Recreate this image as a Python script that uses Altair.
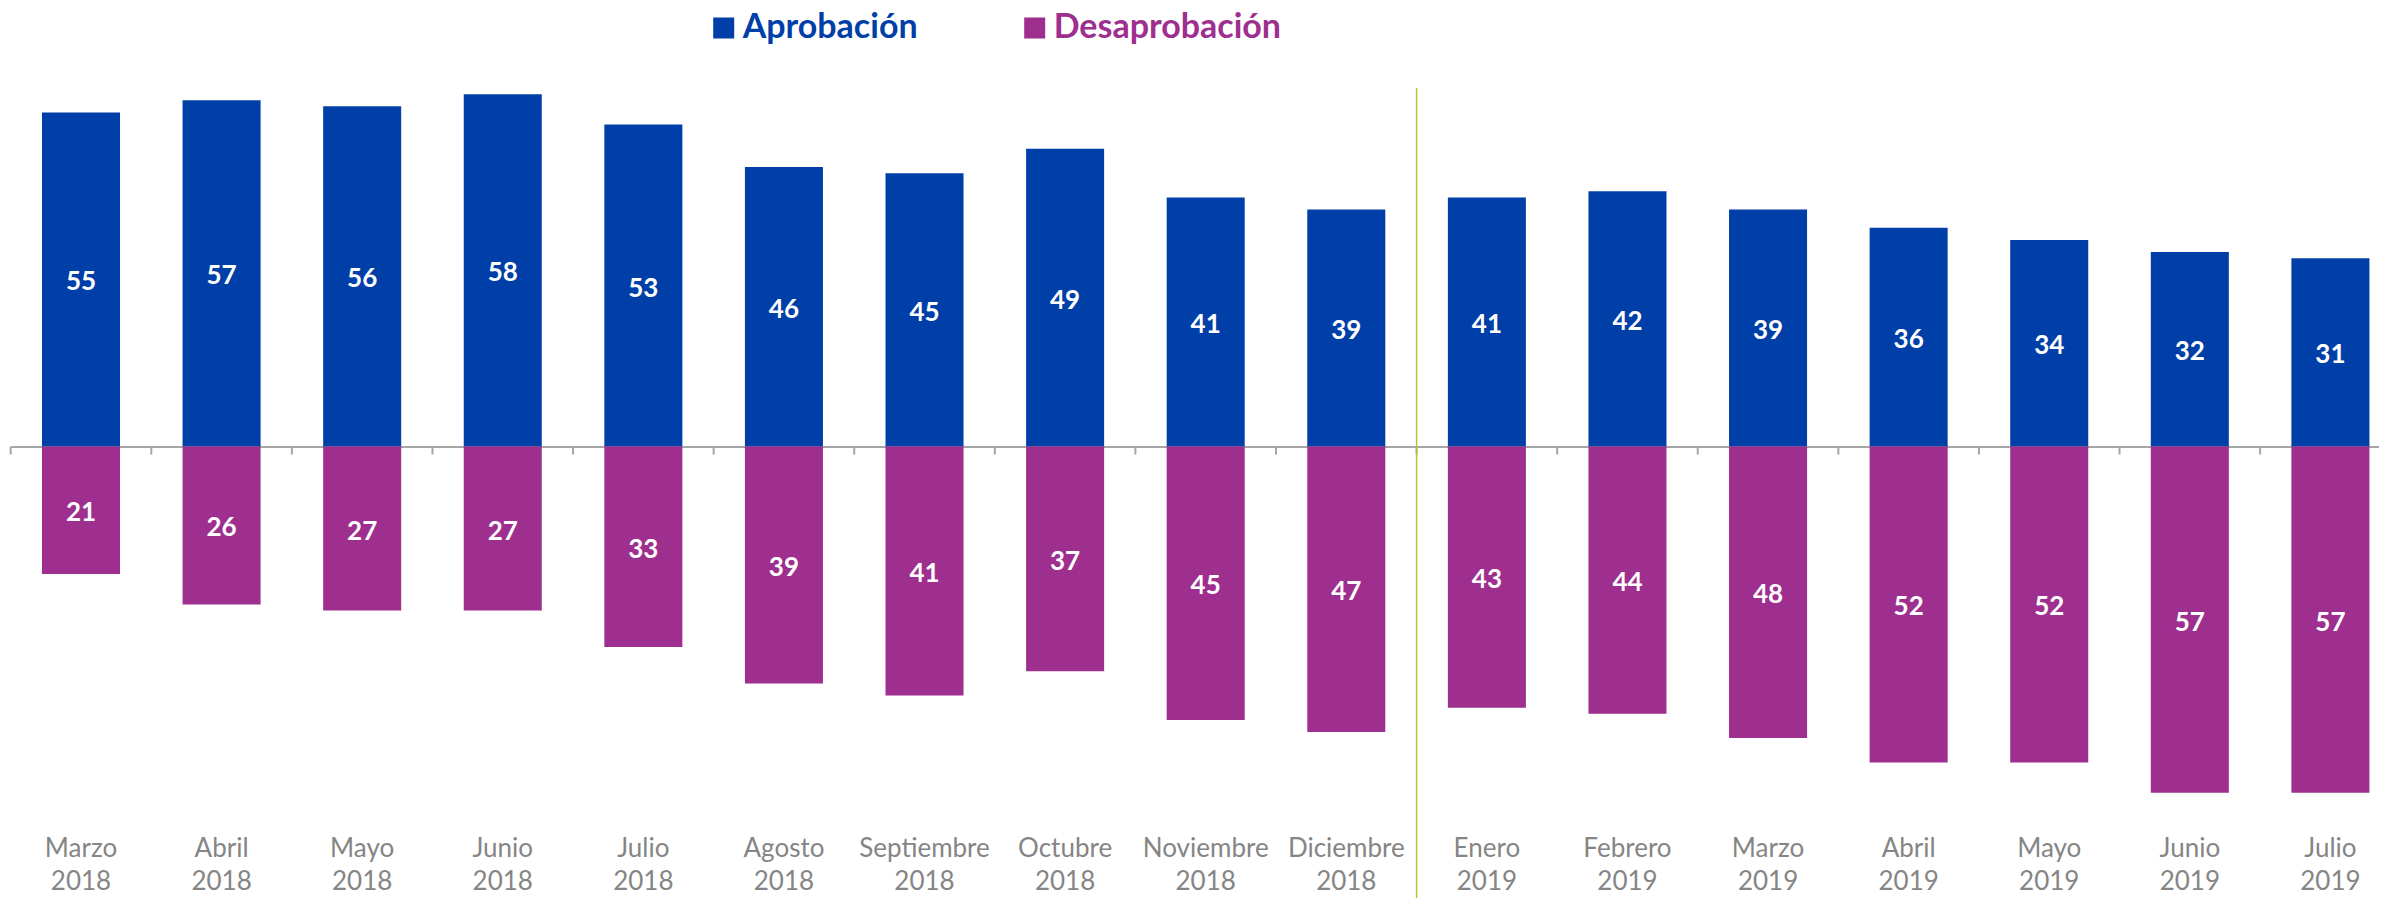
import altair as alt
import pandas as pd

months = ["Marzo 2018", "Abril 2018", "Mayo 2018", "Junio 2018", "Julio 2018",
          "Agosto 2018", "Septiembre 2018", "Octubre 2018", "Noviembre 2018",
          "Diciembre 2018", "Enero 2019", "Febrero 2019", "Marzo 2019",
          "Abril 2019", "Mayo 2019", "Junio 2019", "Julio 2019"]
approval = [55, 57, 56, 58, 53, 46, 45, 49, 41, 39, 41, 42, 39, 36, 34, 32, 31]
disapproval = [21, 26, 27, 27, 33, 39, 41, 37, 45, 47, 43, 44, 48, 52, 52, 57, 57]
series_names = ["Aprobación", "Desaprobación"]
series_colors = ["#003fa7", "#9e2f8f"]
separator_month = ["Enero 2019"]

rows = []
for m, a, d in zip(months, approval, disapproval):
    rows.append({"month": m, "series": series_names[0], "value": a, "label": a})
    rows.append({"month": m, "series": series_names[1], "value": -d, "label": d})
df = pd.DataFrame(rows)

pad_inner = 0.445
xscale = alt.Scale(domain=months, paddingInner=pad_inner, paddingOuter=pad_inner / 2)
y_lo, y_hi = -60, 60
yscale = alt.Scale(domain=[y_lo, y_hi], nice=False)

W, H = 2390, 729
step = W / len(months)
px_per_unit = H / (y_hi - y_lo)
tick_len_units = 8 / px_per_unit

label_axis = alt.Axis(orient="bottom", domain=False, ticks=False, grid=False, title=None,
                      labelExpr="split(datum.label, ' ')", labelFont="Lato",
                      labelFontWeight="normal", labelFontSize=26, labelColor="#858585",
                      labelLineHeight=33, labelPadding=24, labelAngle=0, labelLimit=0,
                      labelOverlap=False)

zero_axis = alt.Axis(orient="bottom", offset=-H / 2, domain=True, domainColor="#a6a6a6",
                     domainWidth=2, ticks=False, labels=False, grid=False, title=None)

legend = alt.Legend(orient="none", legendX=696, legendY=-71, direction="horizontal",
                    title=None, symbolType="square", symbolSize=441, symbolStrokeWidth=0,
                    labelFont="Lato", labelFontWeight="bold", labelFontSize=34,
                    labelColor={"expr": "datum.label == 'Aprobación' ? '#003fa7' : '#9e2f8f'"},
                    labelOffset=2, columnPadding=100, padding=0, labelLimit=0)

bars = alt.Chart(df).mark_bar().encode(
    x=alt.X("month:N", scale=xscale, axis=label_axis, sort=months),
    y=alt.Y("value:Q", scale=yscale, axis=None),
    color=alt.Color("series:N", scale=alt.Scale(domain=series_names, range=series_colors),
                    legend=legend),
)

text = alt.Chart(df).transform_calculate(mid="datum.value / 2").mark_text(
    font="Lato", fontWeight="bold", fontSize=26, color="white",
    align="center", baseline="middle", dy=3
).encode(
    x=alt.X("month:N", scale=xscale, axis=zero_axis, sort=months),
    y=alt.Y("mid:Q", scale=yscale, axis=None),
    text=alt.Text("label:Q"),
)

ticks = alt.Chart(pd.DataFrame({"month": months})).mark_rule(
    color="#a6a6a6", strokeWidth=2
).encode(
    x=alt.X("month:N", scale=xscale, axis=None, bandPosition=0, sort=months),
    xOffset=alt.value(-step * pad_inner / 2),
    y=alt.datum(0),
    y2=alt.datum(-tick_len_units),
)

rule = alt.Chart(pd.DataFrame({"month": separator_month})).mark_rule(
    color="#a5c93a", strokeWidth=1.5
).encode(
    x=alt.X("month:N", scale=xscale, axis=None, bandPosition=0, sort=months),
    xOffset=alt.value(-step * pad_inner / 2),
    y=alt.datum(59),
    y2=alt.value(H + 100),
)

chart = alt.layer(bars, text, ticks, rule).resolve_axis(x="independent").properties(
    width=W, height=H,
    autosize=alt.AutoSizeParams(type="none"),
    padding={"left": 2.7, "top": 74, "right": -21.7, "bottom": 88},
    background="white",
).configure_view(stroke=None)

chart.save("out.html", embed_options={"renderer": "svg", "actions": False})
